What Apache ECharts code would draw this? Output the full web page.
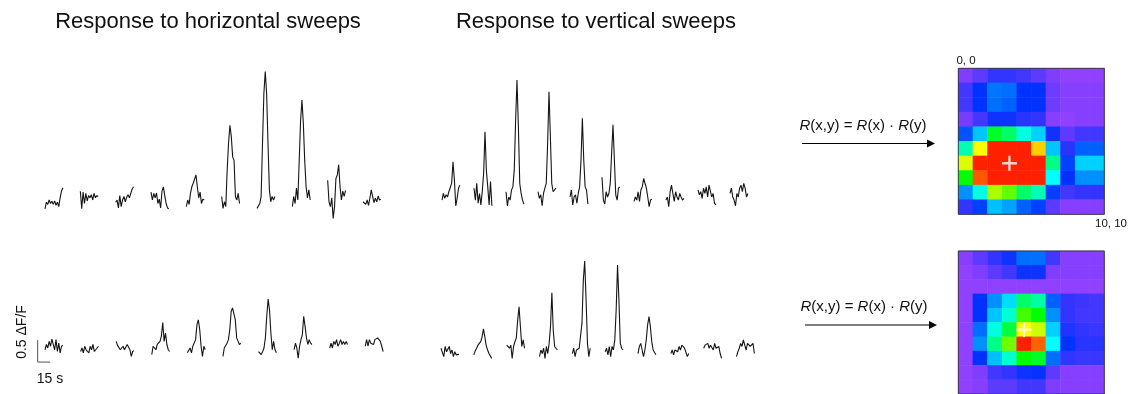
<!DOCTYPE html>
<html>
<head>
<meta charset="utf-8">
<script src="https://cdn.jsdelivr.net/npm/echarts@6/dist/echarts.min.js"></script>
<style>html,body{margin:0;padding:0;background:#fff}#c{width:1130px;height:394px}</style>
</head>
<body>
<div id="c"></div>
<script>
// ---- Data: calcium traces (ΔF/F), one array per sweep position ----
const horizontalTop = [
  [-0.2,-0.05,-0.1,0.0,-0.08,-0.03,-0.1,-0.02,-0.12,-0.05,-0.15,0.05,0.2,0.28],
  [0.2,-0.2,0.18,-0.08,0.15,-0.02,0.1,0.05,0.12,0.0,0.15,0.05,0.1,0.08],
  [-0.05,0.0,-0.18,0.1,-0.15,0.0,0.08,-0.04,0.06,0.12,0.05,0.15,0.25,0.3],
  [0.18,0.0,0.15,0.05,0.16,-0.08,0.02,-0.18,0.2,0.3,0.1,-0.08,-0.18,-0.2],
  [-0.15,0.0,-0.1,0.15,0.3,0.38,0.34,0.57,0.3,0.05,0.18,-0.08,0.02,0.0],
  [0.08,-0.19,-0.04,-0.15,0.68,1.29,1.7,1.44,0.98,0.9,0.08,0.0,0.15,-0.08],
  [-0.19,-0.15,-0.08,0.08,1.29,2.42,2.92,2.42,1.29,0.23,-0.04,0.08,0.0,0.08],
  [-0.15,0.08,-0.08,0.27,0.0,0.9,1.8,2.27,1.74,0.9,0.3,0.05,0.23,0.0],
  [0.45,-0.05,-0.15,0.05,-0.42,-0.15,0.49,0.57,0.8,0.3,0.0,0.2,0.08,0.22],
  [-0.04,-0.08,-0.1,0.0,-0.12,0.04,0.23,0.08,-0.06,0.04,-0.04,0.09,0.0,0.02]
];
const verticalTop = [
  [-0.07,0.08,-0.03,0.05,0.0,0.12,0.08,0.31,0.8,0.39,-0.2,-0.03,0.2,0.27],
  [0.2,-0.07,0.31,-0.14,0.08,-0.18,0.12,0.54,1.48,0.6,0.23,-0.18,0.35,-0.2],
  [0.12,-0.2,0.0,-0.07,0.16,0.23,0.61,1.75,2.66,1.6,0.31,0.08,-0.07,-0.16],
  [0.12,-0.03,0.05,-0.2,0.08,0.2,0.31,1.22,2.39,1.37,0.31,0.12,0.08,0.2],
  [0.0,0.16,-0.18,0.0,0.05,-0.14,0.08,0.23,0.84,1.79,0.84,0.23,0.16,-0.16],
  [0.45,-0.07,-0.16,0.12,0.0,0.08,0.31,0.99,1.64,0.84,0.05,-0.07,0.2,0.23],
  [-0.1,0.0,-0.07,0.12,-0.1,0.16,0.23,0.42,0.39,0.2,0.0,-0.22,-0.07,-0.05],
  [-0.07,0.0,-0.22,0.12,0.27,0.08,-0.1,0.12,0.0,-0.07,0.08,0.0,-0.07,-0.03],
  [0.16,0.05,0.12,-0.03,0.2,0.08,0.23,0.0,0.27,0.23,0.0,0.08,-0.14,-0.18],
  [0.08,0.2,0.0,-0.07,-0.2,0.08,0.0,0.2,0.27,0.12,0.31,0.2,0.0,0.08]
];
const horizontalBottom = [
  [-0.04,0.08,0.0,0.15,0.04,0.2,0.08,-0.04,0.19,-0.08,0.11,-0.11,0.04,0.06],
  [-0.08,0.0,-0.11,0.04,-0.04,0.0,-0.11,0.04,-0.04,0.08,-0.08,-0.11,0.0,0.04],
  [0.15,0.06,0.08,-0.04,0.0,0.04,-0.04,0.0,0.08,0.02,-0.04,-0.19,-0.08,-0.06],
  [-0.15,0.04,0.08,-0.04,0.08,0.04,0.15,0.27,0.58,0.15,0.34,0.08,-0.04,-0.08],
  [-0.11,-0.08,0.0,-0.11,0.04,0.0,0.19,0.53,0.64,0.42,0.04,-0.19,0.04,-0.04],
  [-0.19,0.0,-0.04,0.11,0.19,0.42,0.83,0.91,0.87,0.64,0.23,0.19,0.08,0.11],
  [-0.08,-0.04,-0.15,-0.08,0.0,0.23,0.72,1.11,0.87,0.34,-0.04,0.15,-0.04,-0.11],
  [-0.04,0.11,0.0,-0.23,0.04,0.19,0.3,0.72,0.49,0.23,0.08,0.19,0.11,0.08],
  [0.0,0.11,0.0,0.15,0.08,0.19,0.04,0.11,0.19,0.08,0.15,0.08,0.15,0.08],
  [0.04,0.19,0.04,0.19,0.11,0.15,0.08,0.19,0.15,0.23,0.27,0.15,0.04,-0.08]
];
const verticalBottom = [
  [0.04,0.08,-0.15,0.08,-0.04,0.0,0.08,-0.08,0.0,-0.15,-0.04,-0.11,-0.15,-0.1],
  [-0.11,-0.02,0.04,0.11,0.08,0.19,0.3,0.48,0.3,0.1,0.0,-0.08,-0.12,-0.19],
  [0.11,0.15,0.04,0.11,-0.19,0.08,0.19,0.27,0.68,0.98,0.53,0.08,0.23,0.04],
  [-0.15,0.0,-0.08,0.04,-0.19,0.08,-0.08,0.15,0.53,1.3,0.45,0.08,0.04,0.0],
  [-0.08,0.04,-0.15,0.0,-0.04,0.04,0.08,0.61,1.59,2.02,1.14,0.15,-0.15,0.04],
  [-0.04,0.04,-0.11,0.08,-0.15,0.08,0.0,0.23,0.91,1.93,1.14,0.15,0.04,0.0],
  [-0.08,0.08,0.15,0.0,-0.15,0.0,0.23,0.57,0.76,0.53,0.19,0.0,-0.04,-0.11],
  [-0.08,0.0,-0.11,0.0,0.04,-0.04,0.08,0.0,0.11,0.15,0.04,0.0,-0.15,-0.08],
  [0.04,0.11,0.08,0.15,0.04,0.11,0.08,0.0,0.15,0.04,0.0,0.08,-0.08,-0.19],
  [-0.15,-0.04,0.04,0.15,0.08,0.23,0.11,0.0,0.15,0.19,0.08,0.04,0.15,-0.08]
];
// ---- Data: receptive-field maps (normalised response, rows top->bottom) ----
const mapTop = [
  [0.02,0.06,0.11,0.11,0.09,0.06,0.02,0.0,0.0,0.0],
  [0.09,0.17,0.27,0.26,0.17,0.17,0.04,0.01,0.01,0.01],
  [0.09,0.17,0.26,0.24,0.17,0.17,0.04,0.01,0.01,0.01],
  [0.03,0.09,0.15,0.15,0.12,0.11,0.01,0.0,0.01,0.01],
  [0.22,0.40,0.64,0.60,0.52,0.42,0.15,0.06,0.09,0.09],
  [0.55,0.83,1.0,1.0,1.0,0.87,0.40,0.12,0.24,0.24],
  [0.81,1.0,1.0,1.0,1.0,1.0,0.58,0.19,0.42,0.42],
  [0.667,0.96,1.0,1.0,1.0,1.0,0.5,0.17,0.31,0.31],
  [0.31,0.52,0.78,0.73,0.6,0.55,0.19,0.09,0.11,0.11],
  [0.11,0.19,0.39,0.34,0.24,0.19,0.06,0.01,0.01,0.01]
];
const mapBottom = [
  [0.01,0.06,0.11,0.15,0.26,0.26,0.09,0.01,0.01,0.01],
  [0.0,0.02,0.06,0.09,0.15,0.15,0.02,0.01,0.01,0.01],
  [0.0,0.0,0.0,0.0,0.0,0.0,0.0,0.0,0.0,0.0],
  [0.0,0.17,0.31,0.44,0.60,0.56,0.24,0.11,0.10,0.09],
  [0.0,0.17,0.40,0.53,0.71,0.667,0.31,0.11,0.09,0.09],
  [0.0,0.26,0.52,0.625,0.833,0.80,0.42,0.13,0.11,0.10],
  [0.0,0.31,0.58,0.74,1.0,0.95,0.5,0.17,0.12,0.12],
  [0.0,0.17,0.39,0.53,0.667,0.64,0.26,0.11,0.10,0.10],
  [0.0,0.02,0.09,0.11,0.15,0.16,0.06,0.01,0.01,0.01],
  [0.0,0.01,0.06,0.06,0.09,0.09,0.02,0.01,0.01,0.01]
];
const centerTop = [3, 6];
const centerBottom = [4, 5];
const mapCells = ['0','1','2','3','4','5','6','7','8','9'];
const titleH = 'Response to horizontal sweeps';
const titleV = 'Response to vertical sweeps';
const formula = '{i|R}(x,y) = {i|R}(x) · {i|R}(y)';
const scaleY = '0.5 ΔF/F';
const scaleX = '15 s';
const cornerTL = '0, 0';
const cornerBR = '10, 10';
const scaleBar = { dff: 0.5, sec: 15 };

// ---- Layout ----
const DT = 1.65;            // seconds between samples
const SEC_PX = 1 / 1.2;     // px per second
const DFF_PX = 44;          // px per unit ΔF/F
const XMIN = -12, XMAX = 430;
const FONT = 'Liberation Sans, Arial, Helvetica, sans-serif';
const panels = [
  { traces: horizontalTop,    startPx: 45,  basePx: 200, period: 42.4, ymin: -1.2, ymax: 3.2 },
  { traces: verticalTop,      startPx: 442, basePx: 197, period: 38.4, ymin: -1.2, ymax: 3.2 },
  { traces: horizontalBottom, startPx: 45,  basePx: 348, period: 42.7, ymin: -1.0, ymax: 2.4 },
  { traces: verticalBottom,   startPx: 441, basePx: 350, period: 39.4, ymin: -1.0, ymax: 2.4 }
];

const grid = [], xAxis = [], yAxis = [], series = [];
panels.forEach((p, g) => {
  grid.push({ left: p.startPx + XMIN * SEC_PX, width: (XMAX - XMIN) * SEC_PX,
              top: p.basePx - p.ymax * DFF_PX, height: (p.ymax - p.ymin) * DFF_PX });
  xAxis.push({ type: 'value', gridIndex: g, min: XMIN, max: XMAX, show: false });
  yAxis.push({ type: 'value', gridIndex: g, min: p.ymin, max: p.ymax, show: false });
  p.traces.forEach((tr, k) => {
    series.push({ type: 'line', xAxisIndex: g, yAxisIndex: g, symbol: 'none', silent: true,
      lineStyle: { color: '#151515', width: 1.1 },
      data: tr.map((v, i) => [k * p.period + i * DT, v]) });
  });
});
// scale bar in bottom-left panel
const sbX = -8.8, sbY = -0.32;
series.push({ type: 'line', xAxisIndex: 2, yAxisIndex: 2, symbol: 'none', silent: true,
  lineStyle: { color: '#555', width: 1 },
  data: [[sbX, sbY + scaleBar.dff], [sbX, sbY], [sbX + scaleBar.sec, sbY]] });

// heatmaps
const maps = [
  { data: mapTop, left: 958.3, top: 68.3, center: centerTop },
  { data: mapBottom, left: 958.3, top: 251, center: centerBottom }
];
const heatIdx = [];
maps.forEach((m, j) => {
  const g = grid.length;
  grid.push({ left: m.left, top: m.top, width: 146, height: 146, show: true,
              borderColor: '#3a3a48', borderWidth: 1, backgroundColor: 'transparent', z: 6 });
  xAxis.push({ type: 'category', gridIndex: g, data: mapCells, show: false });
  yAxis.push({ type: 'category', gridIndex: g, data: mapCells, inverse: true, show: false });
  const d = [];
  m.data.forEach((row, r) => row.forEach((v, c) => d.push([c, r, v])));
  heatIdx.push(series.length);
  series.push({ type: 'heatmap', xAxisIndex: g, yAxisIndex: g, data: d, silent: true });
  series.push({ type: 'scatter', xAxisIndex: g, yAxisIndex: g, silent: true, z: 10,
    symbol: 'path://M4.2,0h1.6v10h-1.6z M0,4.2h10v1.6h-10z', symbolSize: 15,
    itemStyle: { color: '#ffffff' }, data: [m.center] });
});

const txt = (x, y, text, size, extra) => Object.assign({ type: 'text', x: x, y: y, silent: true,
  style: Object.assign({ text: text, font: size + 'px ' + FONT, fill: '#111',
    textAlign: 'center', textVerticalAlign: 'middle' }, (extra && extra.style) || {}) },
  extra ? { rotation: extra.rotation || 0 } : {});
const formulaStyle = { rich: { i: { fontStyle: 'italic', fontSize: 15, fontFamily: FONT, fill: '#111' } } };
const arrow = (x1, x2, y) => [
  { type: 'line', silent: true, shape: { x1: x1, y1: y, x2: x2 - 6, y2: y }, style: { stroke: '#000', lineWidth: 1.2 } },
  { type: 'polygon', silent: true, shape: { points: [[x2 - 8, y - 4], [x2, y], [x2 - 8, y + 4]] }, style: { fill: '#000' } }
];

const option = {
  animation: false,
  backgroundColor: '#fff',
  grid, xAxis, yAxis, series,
  visualMap: [{ type: 'continuous', show: false, min: 0, max: 1, seriesIndex: heatIdx,
    inRange: { color: ['#9040ff', '#0030ff', '#00a0ff', '#00ffff', '#00ff00', '#ffff00', '#ff2000'] } }],
  graphic: [
    txt(208, 22, titleH, 22),
    txt(596, 22, titleV, 22),
    txt(863, 126, formula, 15, { style: formulaStyle }),
    txt(864, 307, formula, 15, { style: formulaStyle }),
    txt(966, 61, cornerTL, 11.5),
    txt(1111, 224, cornerBR, 11.5),
    txt(22, 332, scaleY, 14, { rotation: Math.PI / 2 }),
    txt(50, 379, scaleX, 14)
  ].concat(arrow(802, 935, 143.5), arrow(805, 937, 325))
};
const chart = echarts.init(document.getElementById('c'), null, { renderer: 'canvas' });
chart.setOption(option);
</script>
</body>
</html>
